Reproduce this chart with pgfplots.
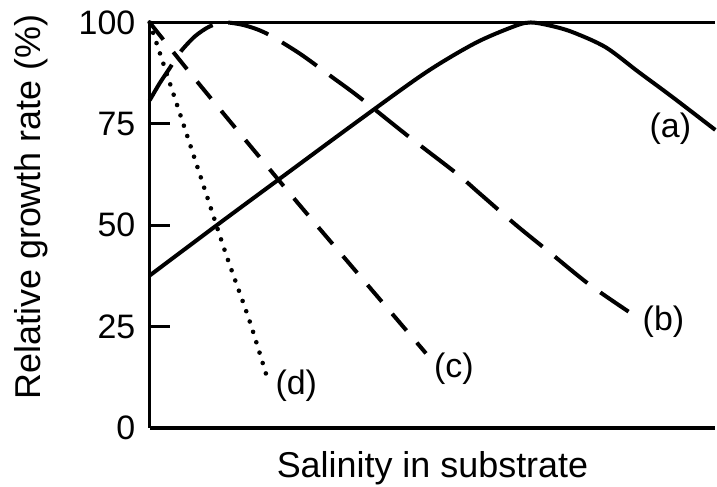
\documentclass[border=0pt]{standalone}
\usepackage{fontspec}
\setmainfont{Liberation Sans}
\usepackage{pgfplots}
\pgfplotsset{compat=1.18}

% curves: x in pixel steps along the salinity axis (0..567), y in %
\pgfplotstableread{
x y
0 37.6
70 50.5
130 61.4
210 75.9
277 87.7
327 95.0
367 99.2
382 100
400 99.3
423 97.7
457 93.9
490 87.8
523 81.8
567 73.5
}\curveA
\pgfplotstableread{
x y
0 80.8
10 85.0
20 88.7
30 92.5
45 96.5
60 99.0
75 100
95 99.3
117 97.3
150 92.4
183 86.5
210 81.6
260 71.8
307 62.9
330 58.0
367 50.1
400 43.5
440 35.5
480 28.7
}\curveB
\pgfplotstableread{
x y
0 100
23 92.9
58 82.3
143 57.1
210 37.7
277 18.4
}\curveC
\pgfplotstableread{
x y
0 100
27 80.0
53 60.5
77 42.5
100 26.5
118 12.2
}\curveD

\begin{document}
\fontsize{17}{20}\selectfont
\begin{tikzpicture}
\begin{axis}[
  scale only axis,
  width=283.5pt,
  height=203.25pt,
  xmin=0, xmax=567,
  ymin=0, ymax=100,
  axis x line=box,
  axis y line=left,
  axis line style={-, line width=1.6pt},
  xtick=\empty,
  ytick={0,25,50,75,100},
  tick align=inside,
  major tick length=10pt,
  tick style={line width=1.6pt, black},
  /pgf/number format/assume math mode=true,
  yticklabel style={font=\fontsize{17}{20}\selectfont, inner sep=0pt, xshift=-7pt},
  xlabel={Salinity in substrate},
  ylabel={Relative growth rate (\%)},
  xlabel style={font=\fontsize{18}{21}\selectfont, inner sep=0pt,
    at={(axis description cs:0.5,-0.057)}, anchor=north},
  ylabel style={font=\fontsize{18}{21}\selectfont, inner sep=0pt,
    at={(axis description cs:-0.18,0.545)}, anchor=south},
  clip=false,
]
\addplot[black, line width=2pt, smooth, tension=0.5] table {\curveA};
\addplot[black, line width=2pt, smooth, tension=0.5, line cap=butt,
  dash pattern=on 21pt off 8pt] table {\curveB};
\addplot[black, line width=2pt, smooth, tension=0.5, line cap=butt,
  dash pattern=on 11pt off 8pt] table {\curveC};
\addplot[black, line width=2.3pt, line cap=round, smooth, tension=0.5,
  dash pattern=on 0pt off 5.45pt] table {\curveD};

\node[font=\fontsize{17}{20}\selectfont] at (axis cs:522,73.7) {(a)};
\node[font=\fontsize{17}{20}\selectfont] at (axis cs:515,26.3) {(b)};
\node[font=\fontsize{17}{20}\selectfont] at (axis cs:305,14.7) {(c)};
\node[font=\fontsize{17}{20}\selectfont] at (axis cs:147,10.3) {(d)};

\coordinate (bbl) at (axis description cs:-0.2646,-0.145);
\coordinate (btr) at (axis description cs:1.003,1.0554);
\end{axis}
\pgfresetboundingbox
\useasboundingbox (bbl) rectangle (btr);
\end{tikzpicture}
\end{document}
